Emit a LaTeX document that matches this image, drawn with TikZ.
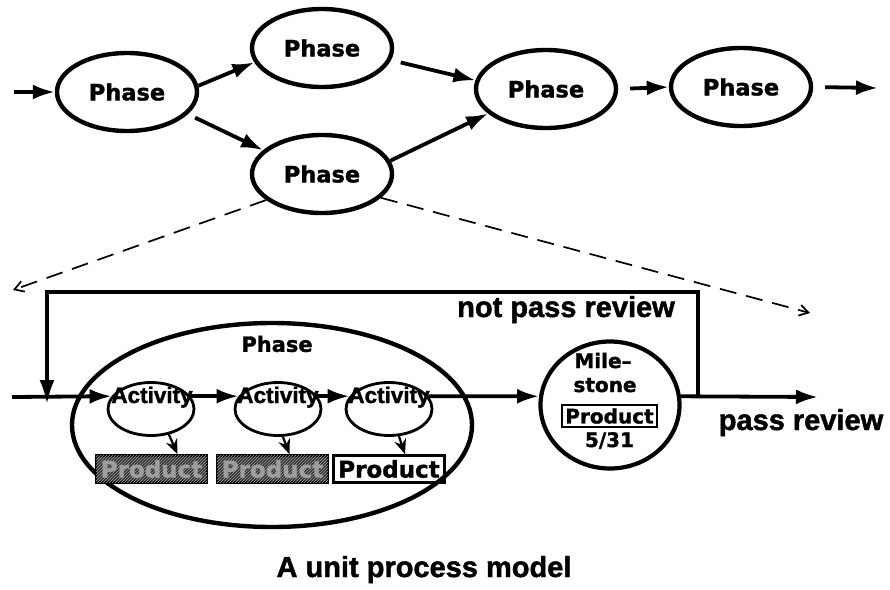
\documentclass[tikz,border=0pt]{standalone}
\usepackage{fontspec}
\setmainfont{Liberation Sans}[BoldFeatures={FakeBold=1.6}]
\newfontfamily\widefont{DejaVu Sans}[BoldFeatures={FakeBold=1.4}]
\usetikzlibrary{arrows.meta,shapes.geometric,patterns}

\begin{document}
\begin{tikzpicture}[x=1pt,y=-1pt,
  phase/.style={ellipse,draw,line width=4.4pt,minimum width=140pt,minimum height=78pt,
    inner sep=0pt,font=\widefont\bfseries\fontsize{22.5}{26}\selectfont},
  flow/.style={line width=3.8pt,-{Latex[length=22pt,width=15pt]}},
  dashline/.style={line width=1.7pt,dash pattern=on 17pt off 10pt,
    -{Straight Barb[length=9pt,width=11pt,line width=1.7pt]}},
  activity/.style={ellipse,draw,line width=2.8pt,minimum width=86pt,minimum height=53pt,inner sep=0pt},
  actlabel/.style={anchor=base,inner sep=0pt,font=\bfseries\fontsize{22.5}{24}\selectfont},
  prodbox/.style={draw,line width=2.6pt,minimum width=111pt,minimum height=27pt,inner sep=0pt,
    font=\widefont\bfseries\fontsize{23}{24}\selectfont},
  doneprod/.style={prodbox,fill=black!82,postaction={pattern=north east lines,pattern color=black!35},
    text=black!38},
  tiny/.style={line width=2.2pt,-{Stealth[length=15pt,width=12pt,inset=5pt]}},
  mstext/.style={anchor=base,inner sep=0pt,font=\widefont\bfseries\fontsize{20}{22}\selectfont},
  review/.style={anchor=base,inner sep=0pt,font=\bfseries\fontsize{29}{32}\selectfont},
]
\useasboundingbox (0,0) rectangle (890,589);

% ---- phase network ----
\node[phase] (p1) at (127,92) {Phase};
\node[phase] (p2) at (322,48) {Phase};
\node[phase] (p3) at (322,174) {Phase};
\node[phase] (p4) at (546,89) {Phase};
\node[phase] (p5) at (741,87) {Phase};
\coordinate (in1) at (14,92);
\coordinate (out5) at (878,88);

\draw[flow] (in1) -- (p1.west);
\draw[flow] (p1.5) -- (p2.192);
\draw[flow,shorten <=8pt] (p1.-20) -- (p3.158);
\draw[flow,shorten <=10pt] (p2.-10) -- (p4.173);
\draw[flow] (p3.11) -- (p4.203);
\draw[flow,shorten <=12pt] (p4.east) -- (p5.west);
\draw[flow,shorten <=12pt] (p5.east) -- (out5);

% ---- zoom lines ----
\coordinate (dl) at (13,290);
\coordinate (dr) at (810,313);
\draw[dashline] (p3.205) -- (dl);
\draw[dashline] (p3.338) -- (dr);

% ---- unit process ----
\node[ellipse,draw,line width=4.4pt,minimum width=400pt,minimum height=204pt,inner sep=0pt] (bp) at (272,425) {};
\node[inner sep=0pt,font=\widefont\bfseries\fontsize{21}{24}\selectfont] (bpl) at (277,344) {Phase};

\node[activity] (a1) at (151,409) {};
\node[activity] (a2) at (278,409) {};
\node[activity] (a3) at (389,409) {};
\node[actlabel] (a1t) at (152,403) {Activity};
\node[actlabel] (a2t) at (278,403) {Activity};
\node[actlabel] (a3t) at (389,403) {Activity};

\node[doneprod] (pr1) at (151.5,469) {Product};
\node[doneprod] (pr2) at (272.5,469) {Product};
\node[prodbox] (pr3) at (389,469) {Product};

\draw[tiny] (a1.-55) -- ([xshift=26pt]pr1.north);
\draw[tiny] (a2.-80) -- ([xshift=17pt]pr2.north);
\draw[tiny] (a3.-70) -- ([xshift=16pt]pr3.north);

% milestone
\node[ellipse,draw,line width=4.2pt,minimum width=139pt,minimum height=127pt,inner sep=0pt] (ms) at (610,405) {};
\node[mstext] (ms1) at (603,368) {Mile–};
\node[mstext] (ms2) at (605,392) {stone};
\node[draw,line width=2.2pt,minimum width=95pt,minimum height=22pt,inner sep=0pt,
  font=\widefont\bfseries\fontsize{20}{22}\selectfont] (msp) at (609.5,416) {Product};
\node[mstext] (ms3) at (609.5,447) {5/31};

% main flow line
\coordinate (inL) at (12,397);
\coordinate (outB) at (818,397);
\draw[flow] (inL) -- (a1.162);
\draw[flow] (a1.18) -- (a2.162);
\draw[flow] (a2.18) -- (a3.162);
\draw[flow] (a3.18) -- (ms.173);
\draw[flow] (ms.7) -- (outB);

% review feedback loop
\coordinate (fbR) at (698,397);
\coordinate (fbTR) at (698,292);
\coordinate (fbTL) at (47,292);
\coordinate (fbL) at (47,404);
\draw[line width=3.4pt,-{Latex[length=24pt,width=15pt]}] (fbR) -- (fbTR) -- (fbTL) -- (fbL);

\node[review] (npr) at (566,317) {not pass review};
\node[review] (pr) at (801,430) {pass review};
\node[review] (title) at (424,577) {A unit process model};
\end{tikzpicture}
\end{document}
